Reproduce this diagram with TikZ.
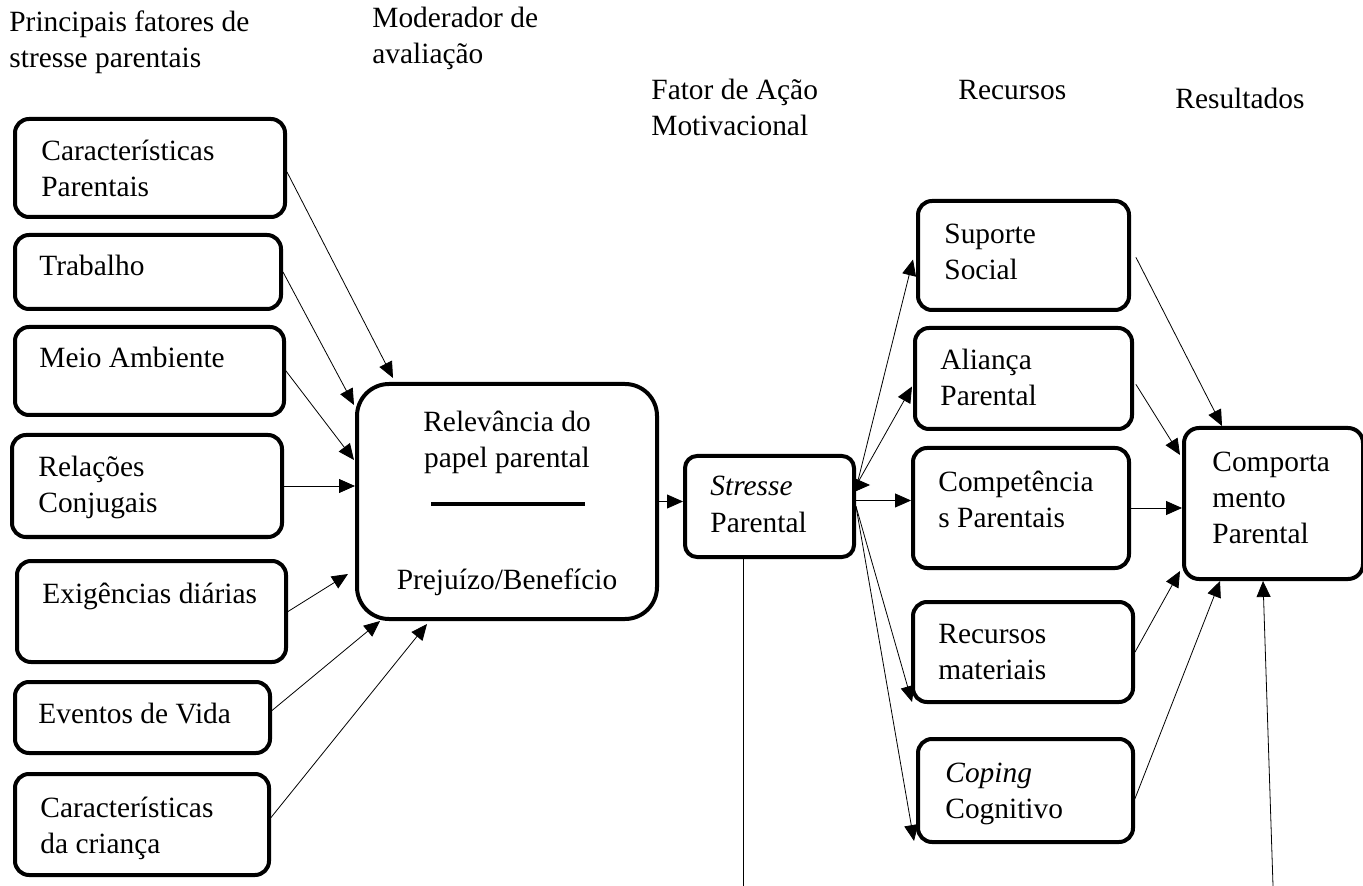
\documentclass[tikz,border=0pt]{standalone}
\usepackage{fontspec}
\setmainfont{Liberation Serif}
\usetikzlibrary{arrows.meta}

\tikzset{
  caixa/.style={draw, line width=2pt, rounded corners=7pt, anchor=north west, inner sep=0pt},
  rotulo/.style={anchor=base west, align=left, inner sep=0pt, font=\fontsize{14.7}{18}\selectfont},
  seta/.style={-{Triangle[length=8pt,width=7pt]}, line width=0.4pt},
  linha/.style={line width=0.5pt},
}

\begin{document}
\begin{tikzpicture}[line cap=round,line join=round,x=0.5pt,y=-0.5pt]
	\useasboundingbox (0,0) rectangle (1363,886);
	% cabecalhos (base = ultima linha)
	\node[rotulo] (hPri) at (9,68) {Principais fatores de\\stresse parentais};
	\node[rotulo] (hMod) at (372,64) {Moderador de\\avaliação};
	\node[rotulo] (hFat) at (651,136) {Fator de Ação\\Motivacional};
	\node[rotulo] (hRec) at (958,100) {Recursos};
	\node[rotulo] (hRes) at (1175,109) {Resultados};
	% fatores de stresse
	\node[caixa, minimum width=135pt, minimum height=49pt] (cp) at (13,117) {};
	\node[rotulo] (cpT) at ([shift={(28,80)}]cp.north west) {Características\\Parentais};
	\node[caixa, minimum width=133pt, minimum height=37pt] (tr) at (13,233) {};
	\node[rotulo] (trT) at ([shift={(26,43)}]tr.north west) {Trabalho};
	\node[caixa, minimum width=134.5pt, minimum height=44pt] (ma) at (13,325) {};
	\node[rotulo] (maT) at ([shift={(26,43)}]ma.north west) {Meio Ambiente};
	\node[caixa, minimum width=135pt, minimum height=51pt] (rc) at (10,433) {};
	\node[rotulo] (rcT) at ([shift={(28,80)}]rc.north west) {Relações\\Conjugais};
	\node[caixa, minimum width=134.5pt, minimum height=50.5pt] (ex) at (15,559) {};
	\node[rotulo] (exT) at ([shift={(27,44)}]ex.north west) {Exigências diárias};
	\node[caixa, minimum width=127.5pt, minimum height=35.5pt] (ev) at (13,680) {};
	\node[rotulo] (evT) at ([shift={(25,43)}]ev.north west) {Eventos de Vida};
	\node[caixa, minimum width=127pt, minimum height=50.5pt] (cc) at (13,772) {};
	\node[rotulo] (ccT) at ([shift={(27,81)}]cc.north west) {Características\\da criança};
	% moderador
	\node[caixa, rounded corners=16pt, minimum width=150pt, minimum height=117.5pt] (rel) at (355,382) {};
	\node[rotulo, anchor=base, align=center] (relT) at ([shift={(0,86)}]rel.north) {Relevância do\\papel parental};
	\node[rotulo, anchor=base] (relB) at ([shift={(0,-32)}]rel.south) {Prejuízo/Benefício};
	\draw[line width=2pt, line cap=butt] ([shift={(-76,3)}]rel.center) -- ([shift={(78,3)}]rel.center);
	% fator de acao
	\node[caixa, rounded corners=6pt, minimum width=84.5pt, minimum height=50.5pt] (st) at (683,454) {};
	\node[rotulo] (stT) at ([shift={(27,78)}]st.north west) {\textit{Stresse}\\Parental};
	% recursos
	\node[caixa, minimum width=105.5pt, minimum height=54.5pt] (sup) at (916,199) {};
	\node[rotulo] (supT) at ([shift={(28,81)}]sup.north west) {Suporte\\Social};
	\node[caixa, minimum width=108.5pt, minimum height=50.5pt] (ali) at (913,326) {};
	\node[rotulo] (aliT) at ([shift={(27,80)}]ali.north west) {Aliança\\Parental};
	\node[caixa, minimum width=108pt, minimum height=60pt] (cpt) at (911,446) {};
	\node[rotulo] (cptT) at ([shift={(27,82)}]cpt.north west) {Competência\\s Parentais};
	\node[caixa, minimum width=110pt, minimum height=50pt] (rm) at (911,600) {};
	\node[rotulo] (rmT) at ([shift={(27,79)}]rm.north west) {Recursos\\materiais};
	\node[caixa, minimum width=107.5pt, minimum height=51.5pt] (cop) at (916,737) {};
	\node[rotulo] (copT) at ([shift={(29,81)}]cop.north west) {\textit{Coping}\\Cognitivo};
	% resultados
	\node[caixa, rounded corners=7.5pt, minimum width=89.5pt, minimum height=75.5pt] (com) at (1182,426) {};
	\node[rotulo] (comT) at ([shift={(30,118)}]com.north west) {Comporta\\mento\\Parental};
	\coordinate (fimA) at (743,886);
	\coordinate (fimB) at (1273,886);
	% setas para o moderador
	\draw[seta] ([yshift=-2pt]cp.east) -- ([xshift=19pt,yshift=2pt]rel.north west);
	\draw[seta] (tr.east) -- ([xshift=-0.5pt,yshift=-11.5pt]rel.north west);
	\draw[seta] (ma.east) -- ([xshift=-0.5pt,yshift=-39pt]rel.north west);
	\draw[seta] (rc.east) -- (rc.east -| rel.west);
	\draw[seta] (ex.east) -- ([xshift=-3.5pt,yshift=23.5pt]rel.south west);
	\draw[seta] ([yshift=3.5pt]ev.east) -- ([xshift=12.5pt]rel.south west);
	\draw[seta] ([yshift=3.5pt]cc.east) -- ([xshift=36pt,yshift=-1.5pt]rel.south west);
	\draw[seta] (rel.east) -- (rel.east -| st.west);
	% setas para os recursos
	\draw[seta] ([xshift=1pt,yshift=13pt]st.east) -- ([xshift=-1.5pt,yshift=-2pt]sup.west);
	\draw[seta] ([xshift=1.5pt,yshift=13pt]st.east) -- ([xshift=-0.5pt,yshift=-4pt]ali.west);
	\draw[seta] ([yshift=10.75pt]st.east) -- ++(7pt,0);
	\draw[seta] ([yshift=3pt]st.east) -- ([yshift=3pt]st.east -| cpt.west);
	\draw[seta] ([yshift=0pt]st.east) -- ([xshift=0.5pt,yshift=1pt]rm.south west);
	\draw[seta] ([yshift=0pt]st.east) -- ([xshift=-1pt,yshift=1.5pt]cop.south west);
	% setas para os resultados
	\draw[seta] ([xshift=2.5pt,yshift=-1pt]sup.east) -- ([xshift=20pt]com.north west);
	\draw[seta] ([xshift=1pt,yshift=-3pt]ali.east) -- ([xshift=-1pt,yshift=-14.5pt]com.north west);
	\draw[seta] (cpt.east) -- (cpt.east -| com.west);
	\draw[seta] (rm.east) -- ([xshift=-1pt,yshift=5pt]com.south west);
	\draw[seta] ([yshift=-4pt]cop.east) -- ([xshift=19pt]com.south west);
	% retorno
	\draw[linha] (fimA |- st.south) -- (fimA);
	\draw[seta] (fimB) -- ([xshift=40.5pt]com.south west);
\end{tikzpicture}
\end{document}
